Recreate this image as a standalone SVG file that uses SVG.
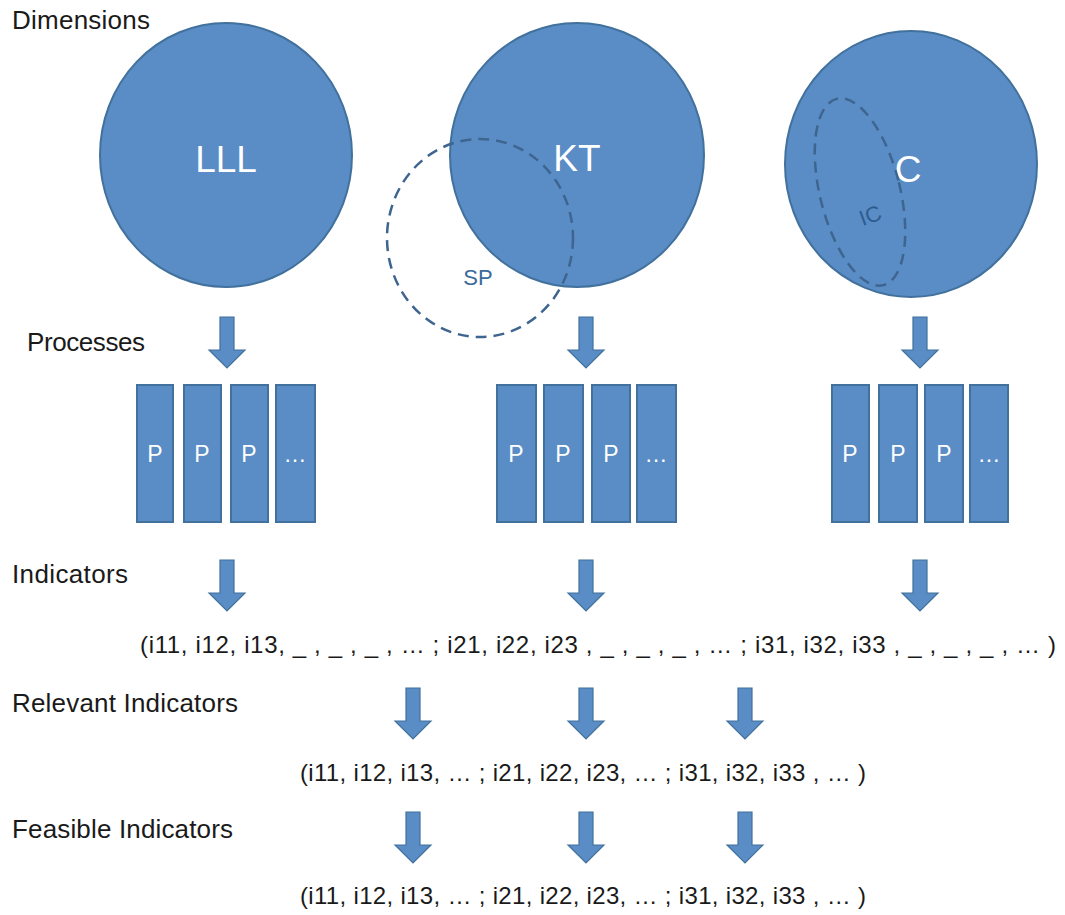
<svg xmlns="http://www.w3.org/2000/svg" xmlns:xlink="http://www.w3.org/1999/xlink" width="1065" height="915" viewBox="0 0 1065 915">
<style>
.bg{fill:#ffffff}
.dim{fill:#5A8CC6;stroke:#41719C;stroke-width:2}
.box{fill:#5A8CC6;stroke:#41719C;stroke-width:2}
.arr{fill:#5A8CC6;stroke:#41719C;stroke-width:1.2}
.dash{fill:none;stroke:#3E6590;stroke-width:2.5;stroke-dasharray:11 7}
.lbl{font-family:"Liberation Sans",Arial,sans-serif;font-size:26px;fill:#1a1a1a}
.big{font-family:"Liberation Sans",Arial,sans-serif;font-size:37px;fill:#ffffff;text-anchor:middle}
.p{font-family:"Liberation Sans",Arial,sans-serif;font-size:23px;fill:#ffffff;text-anchor:middle}
.sub{font-family:"Liberation Sans",Arial,sans-serif;font-size:22px;fill:#3A6A9C;text-anchor:middle}
.seq{font-family:"Liberation Sans",Arial,sans-serif;font-size:24px;fill:#1a1a1a}
</style>
<defs>
<path id="arrow" d="M-7,0 H7 V33 H18 L0,51 L-18,33 H-7 Z"/>
</defs>
<rect class="bg" x="0" y="0" width="1065" height="915"/>

<g id="labels">
<text class="lbl" x="12" y="29" textLength="138">Dimensions</text>
<text class="lbl" x="27" y="351" textLength="118">Processes</text>
<text class="lbl" x="12" y="583" textLength="116">Indicators</text>
<text class="lbl" x="12" y="712" textLength="226">Relevant Indicators</text>
<text class="lbl" x="12" y="838" textLength="221">Feasible Indicators</text>
</g>

<g id="dim-LLL">
<ellipse class="dim" cx="226" cy="155" rx="126" ry="132"/>
<text class="big" x="226" y="172">LLL</text>
</g>
<g id="dim-KT">
<ellipse class="dim" cx="577" cy="155" rx="127" ry="132"/>
<text class="big" x="577" y="171">KT</text>
</g>
<g id="dim-SP">
<ellipse class="dash" cx="480" cy="238" rx="93" ry="99"/>
<text class="sub" x="478" y="285">SP</text>
</g>
<g id="dim-C">
<ellipse class="dim" cx="911" cy="164" rx="126" ry="133"/>
<text class="big" x="908" y="182">C</text>
</g>
<g id="dim-IC">
<ellipse class="dash" cx="860" cy="192" rx="40" ry="96" transform="rotate(-14 860 192)"/>
<text class="sub" x="870" y="223" transform="rotate(-20 870 215)" style="fill:#2F5C8F">IC</text>
</g>

<g id="proc-LLL">
<rect class="box" x="137" y="385" width="36" height="137"/>
<rect class="box" x="184" y="385" width="37" height="137"/>
<rect class="box" x="231" y="385" width="37" height="137"/>
<rect class="box" x="276" y="385" width="39" height="137"/>
<text class="p" x="155" y="462">P</text>
<text class="p" x="202" y="462">P</text>
<text class="p" x="249" y="462">P</text>
<text class="p" x="295" y="462">…</text>
</g>
<g id="proc-KT">
<rect class="box" x="497" y="385" width="39" height="137"/>
<rect class="box" x="544" y="385" width="39" height="137"/>
<rect class="box" x="592" y="385" width="38" height="137"/>
<rect class="box" x="637" y="385" width="39" height="137"/>
<text class="p" x="516" y="462">P</text>
<text class="p" x="563" y="462">P</text>
<text class="p" x="611" y="462">P</text>
<text class="p" x="656" y="462">…</text>
</g>
<g id="proc-C">
<rect class="box" x="832" y="385" width="37" height="137"/>
<rect class="box" x="879" y="385" width="38" height="137"/>
<rect class="box" x="925" y="385" width="38" height="137"/>
<rect class="box" x="970" y="385" width="38" height="137"/>
<text class="p" x="850" y="462">P</text>
<text class="p" x="898" y="462">P</text>
<text class="p" x="944" y="462">P</text>
<text class="p" x="989" y="462">…</text>
</g>

<g id="seq-indicators">
<text class="seq" x="140" y="653" textLength="916">(i11, i12, i13, _ , _ , _ , … ; i21, i22, i23 , _ , _ , _ , … ; i31, i32, i33 , _ , _ , _ , … )</text>
</g>
<g id="seq-relevant">
<text class="seq" x="300" y="781" textLength="566">(i11, i12, i13, … ; i21, i22, i23, … ; i31, i32, i33 , … )</text>
</g>
<g id="seq-feasible">
<text class="seq" x="300" y="904" textLength="566">(i11, i12, i13, … ; i21, i22, i23, … ; i31, i32, i33 , … )</text>
</g>

<g id="connectors">
<use xlink:href="#arrow" class="arr" transform="translate(227,317)"/>
<use xlink:href="#arrow" class="arr" transform="translate(586,317)"/>
<use xlink:href="#arrow" class="arr" transform="translate(920,317)"/>
<use xlink:href="#arrow" class="arr" transform="translate(227,560)"/>
<use xlink:href="#arrow" class="arr" transform="translate(586,560)"/>
<use xlink:href="#arrow" class="arr" transform="translate(920,560)"/>
<use xlink:href="#arrow" class="arr" transform="translate(413,688)"/>
<use xlink:href="#arrow" class="arr" transform="translate(586,688)"/>
<use xlink:href="#arrow" class="arr" transform="translate(745,688)"/>
<use xlink:href="#arrow" class="arr" transform="translate(413,812)"/>
<use xlink:href="#arrow" class="arr" transform="translate(586,812)"/>
<use xlink:href="#arrow" class="arr" transform="translate(745,812)"/>
</g>
</svg>
